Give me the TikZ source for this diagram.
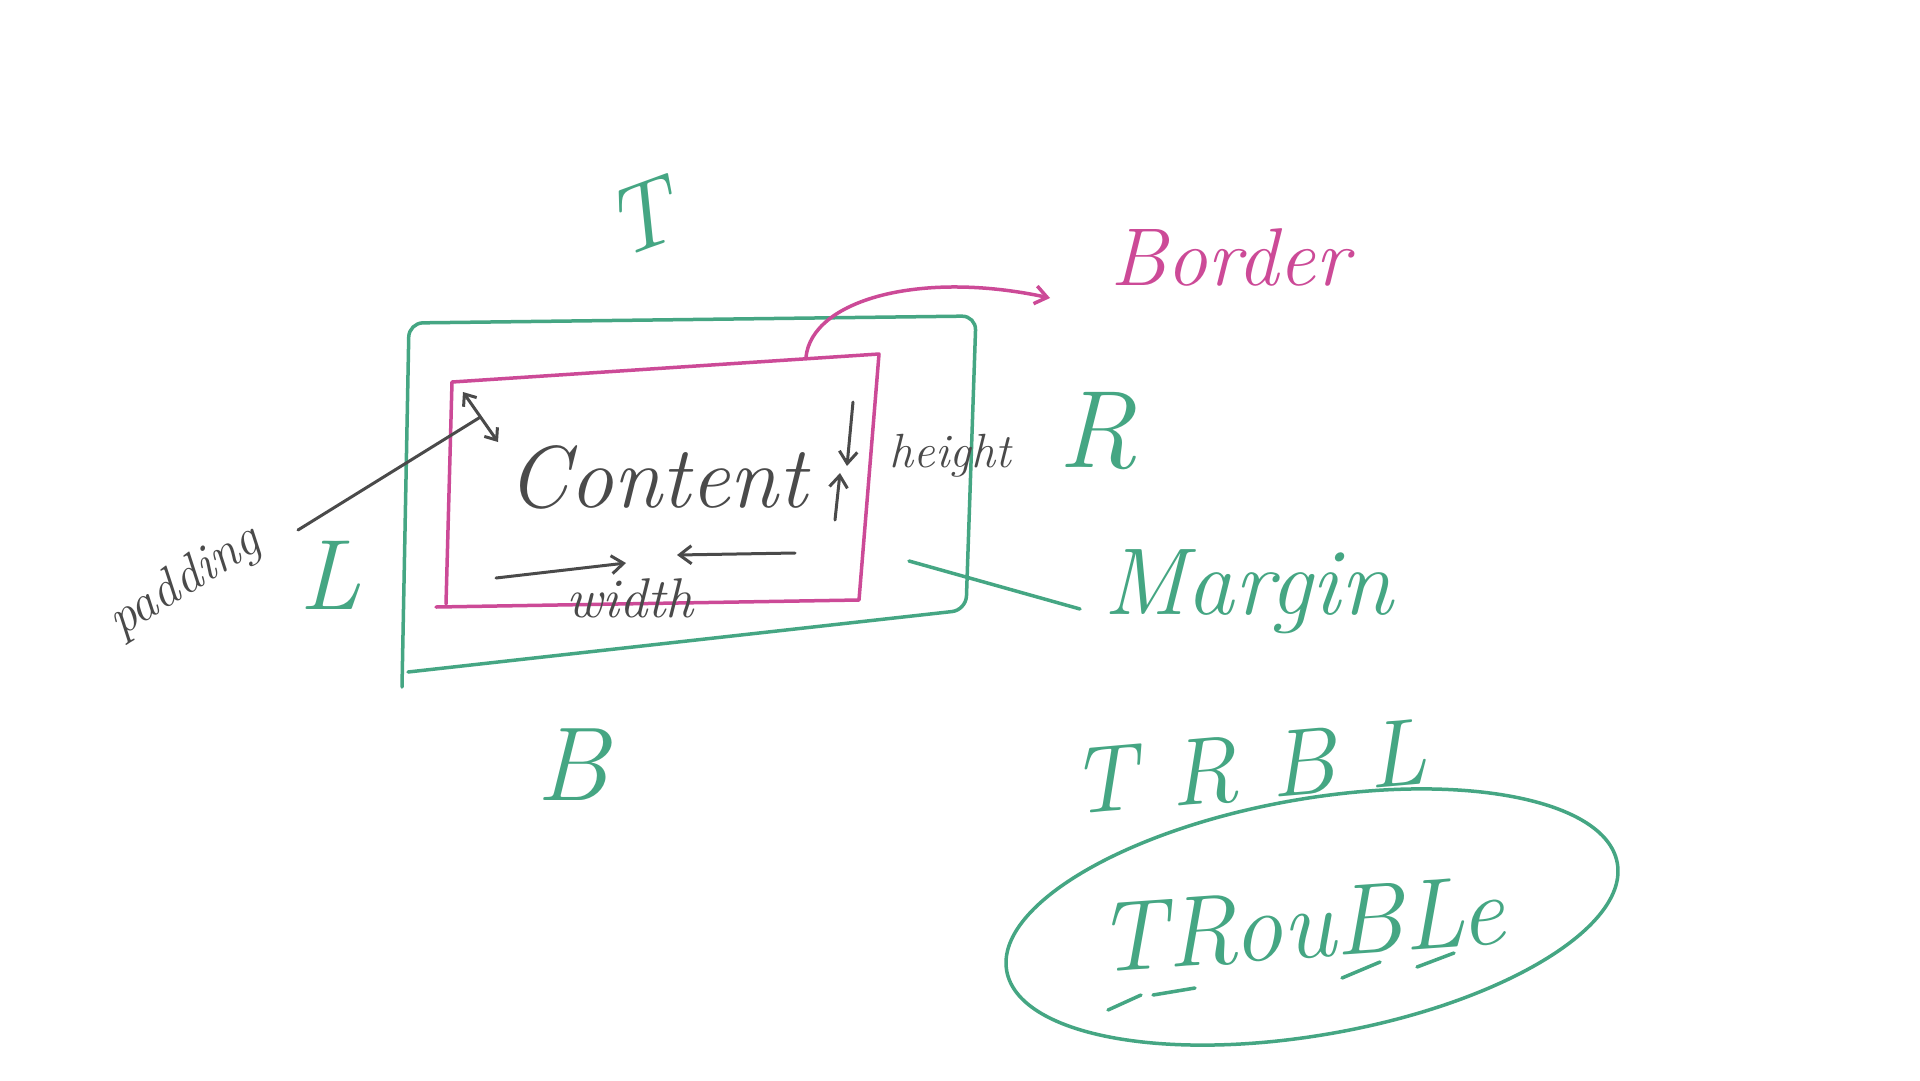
\documentclass[tikz,border=0pt]{standalone}
\usepackage{fontspec}
\usetikzlibrary{arrows.meta, calc}
\definecolor{mgreen}{HTML}{45A683}
\definecolor{bpink}{HTML}{CC4A97}
\definecolor{ink}{HTML}{4A4A4A}
\newcommand{\hs}[1]{\fontsize{#1}{#1}\selectfont\itshape}

\begin{document}
\begin{tikzpicture}[x=1pt, y=-1pt,
  marginink/.style={draw=mgreen, line width=3.5pt, line cap=round, line join=round},
  borderink/.style={draw=bpink, line width=3.5pt, line cap=round, line join=round},
  pencil/.style={draw=ink, line width=3pt, line cap=round},
  tip/.style={-{Straight Barb[length=12pt, width=18pt]}},
  lbl/.style={inner sep=0pt},
]
  \fill[white] (0,0) rectangle (1920,1080);
  \useasboundingbox (0,0) rectangle (1920,1080);
  % margin box
  \coordinate (M1) at (409,323);
  \coordinate (M2) at (976,316);
  \coordinate (M3) at (966,610);
  \coordinate (M4) at (408,672);
  \coordinate (M5) at (402,687);
  \draw[marginink, rounded corners=14pt] (M5) -- (M1) -- (M2) -- (M3) -- (M4);
  % border box
  \coordinate (P1) at (452,382);
  \coordinate (P2) at (879,354);
  \coordinate (P3) at (859,600);
  \coordinate (P4) at (436,607);
  \coordinate (P5) at (446,604);
  \draw[borderink] (P4) -- (P3) -- (P2) -- (P1) -- (P5);
  % labels
  \node[lbl, font=\hs{88}, text=ink] (content) at (657,477) {Content};
  \node[lbl, font=\hs{48}, text=ink] (height) at (950,456) {height};
  \node[lbl, font=\hs{56}, text=ink] (width) at (630,598) {width};
  \node[lbl, font=\hs{52}, text=ink, rotate=32] (padding) at (185,582) {padding};
  \node[lbl, font=\hs{95}, text=mgreen, rotate=20] (top) at (640,218) {T};
  \node[lbl, font=\hs{110}, text=mgreen] (right) at (1098,431) {R};
  \node[lbl, font=\hs{105}, text=mgreen] (bottom) at (573,765) {B};
  \node[lbl, font=\hs{100}, text=mgreen] (left) at (330,575) {L};
  \node[lbl, font=\hs{82}, text=bpink] (border) at (1230,257) {Border};
  \node[lbl, font=\hs{95}, text=mgreen] (margin) at (1248,592) {Margin};
  \node[lbl, font=\hs{95}, text=mgreen, rotate=5] (trbl) at (1248,768) {T R B L};
  \node[lbl, font=\hs{100}, text=mgreen, rotate=4] (trouble) at (1300,925) {TRouBLe};
  % ring round TRouBLe
  \draw[marginink] (1312,917) ellipse [x radius=310pt, y radius=118pt, rotate=10];
  \foreach \xa/\ya/\xb/\yb in {1108/1010/1141/995, 1153/995/1195/988,
                               1342/978/1380/962, 1417/967/1454/953}
    \draw[marginink] (\xa,\ya) -- (\xb,\yb);
  % border arrow
  \coordinate (btop) at (806,357);
  \coordinate (bend) at (1050,298);
  \draw[borderink, tip] (btop) .. controls (812,300) and (920,270) .. (bend);
  % margin connector
  \coordinate (min) at (909,561);
  \coordinate (mout) at (1080,609);
  \draw[marginink] (min) -- (mout);
  % padding
  \coordinate (padA) at (463,392);
  \coordinate (padB) at (498,442);
  \coordinate (padL) at (298,530);
  \draw[pencil, {Straight Barb[length=10pt, width=16pt]}-{Straight Barb[length=10pt, width=16pt]}] (padA) -- (padB);
  \draw[pencil] (padL) -- ($(padA)!0.5!(padB)$);
  % height, width
  \coordinate (h1) at (853,402);
  \coordinate (h2) at (847,466);
  \coordinate (h3) at (835,520);
  \coordinate (h4) at (840,473);
  \draw[pencil, tip] (h1) -- (h2);
  \draw[pencil, tip] (h3) -- (h4);
  \coordinate (w1) at (496,578);
  \coordinate (w2) at (626,563);
  \coordinate (w3) at (795,553);
  \coordinate (w4) at (677,555);
  \draw[pencil, tip] (w1) -- (w2);
  \draw[pencil, tip] (w3) -- (w4);
\end{tikzpicture}
\end{document}
